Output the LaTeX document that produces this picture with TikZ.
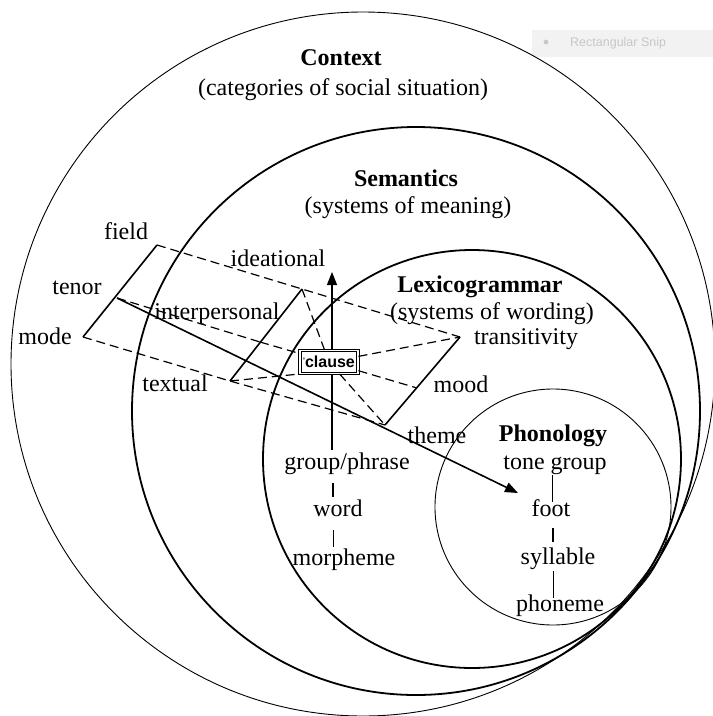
\documentclass[tikz,border=0pt]{standalone}
\usepackage{fontspec}
\setmainfont{Liberation Serif}
\setsansfont{Liberation Sans}
\usetikzlibrary{arrows.meta}
\begin{document}
\begin{tikzpicture}[x=1pt,y=-1pt,
  lbl/.style={font=\fontsize{24}{26}\selectfont, inner sep=0pt, text height=17pt, text depth=5pt},
  ttl/.style={lbl, font=\fontsize{24}{26}\selectfont\bfseries},
  thincirc/.style={draw, line width=0.9pt},
  thickcirc/.style={draw, line width=1.8pt},
  plane/.style={line width=1.6pt},
  link/.style={dash pattern=on 9pt off 5pt, line width=1.2pt},
  conn/.style={line width=0.9pt},
  bconn/.style={line width=1.8pt},
  tip/.style={-{Triangle[length=13pt,width=10pt]}},
  clausebox/.style={draw, double=white, double distance=1.1pt, line width=1pt, fill=white,
    minimum width=58pt, minimum height=23pt, inner sep=0pt,
    font=\fontsize{16}{18}\selectfont\sffamily\bfseries}
]
\useasboundingbox (0,0) rectangle (713,716);
% snip watermark
\node[fill=black!5, minimum width=181pt, minimum height=27pt, inner sep=0pt] (snip) at (622.5,43) {};
\node[text=black!22, inner sep=0pt, font=\fontsize{12}{12}\selectfont\sffamily] (snipdot) at (546,43) {$\bullet$};
\node[text=black!22, inner sep=0pt, anchor=west, font=\fontsize{12.5}{13}\selectfont\sffamily] (sniptext) at (570,43) {Rectangular Snip};
% circles
\coordinate (c0) at (363,364);
\coordinate (c1) at (416,411);
\coordinate (c2) at (472,459);
\coordinate (c3) at (553,507);
\draw[thincirc] (c0) circle[radius=352pt];
\draw[thickcirc] (c1) circle[radius=284pt];
\draw[thickcirc] (c2) circle[radius=209pt];
\draw[thincirc] (c3) circle[radius=118pt];

% titles
\node[ttl] (ctx) at (341,59) {Context};
\node[lbl] (ctxs) at (343,89) {(categories of social situation)};
\node[ttl] (sem) at (406,180) {Semantics};
\node[lbl] (sems) at (408,207) {(systems of meaning)};
\node[ttl] (lex) at (480,286) {Lexicogrammar};
\node[lbl] (lexs) at (492,313) {(systems of wording)};
\node[ttl] (pho) at (553,435) {Phonology};

% phonology ranks
\node[lbl] (tg) at (555,463) {tone group};
\node[lbl] (ft) at (551,510) {foot};
\node[lbl] (syl) at (558,558) {syllable};
\node[lbl] (phn) at (560,605) {phoneme};
% lexicogrammar ranks
\node[lbl] (gp) at (347,463) {group/phrase};
\node[lbl] (wd) at (338,510) {word};
\node[lbl] (mph) at (344,559) {morpheme};

% labels
\node[lbl] (field) at (126,233) {field};
\node[lbl] (tenor) at (77,288) {tenor};
\node[lbl] (mode) at (45,338) {mode};
\node[lbl] (idea) at (278,260) {ideational};
\node[lbl] (inter) at (217,313) {interpersonal};
\node[lbl] (text) at (175,385) {textual};
\node[lbl] (trans) at (526,338) {transitivity};
\node[lbl] (mood) at (461,386) {mood};
\node[lbl] (theme) at (437,437) {theme};

% corners
\coordinate (F) at (157,245);
\coordinate (M) at (83,337);
\coordinate (Tn) at (117,298);
\coordinate (I) at (302,289);
\coordinate (X) at (230,381);
\coordinate (P) at (260,342);
\coordinate (Tr) at (460,337);
\coordinate (Th) at (385,425);
\coordinate (Md) at (417,388);
\coordinate (A) at (518,493);
\coordinate (vbot) at (332,450);
\coordinate (vtop) at (332,272);

% rank connectors
\coordinate (gpw1) at (333,483); \coordinate (gpw2) at (333,497);
\coordinate (wm1) at (333,530); \coordinate (wm2) at (333,547);
\coordinate (tf1) at (552,475); \coordinate (tf2) at (552,502);
\coordinate (fs1) at (553,528); \coordinate (fs2) at (553,542);
\coordinate (sp1) at (553,571); \coordinate (sp2) at (553,598);
\draw[bconn] (gpw1) -- (gpw2);
\draw[conn] (wm1) -- (wm2);
\draw[conn] (tf1) -- (tf2);
\draw[bconn] (fs1) -- (fs2);
\draw[conn] (sp1) -- (sp2);

% vertical arrow
\draw[line width=1.1pt, tip] (vbot) -- (vtop);

% dashed links
\draw[link] (F) -- (I) -- (Tr);
\draw[link] (M) -- (X) -- (Th);
\draw[link] (Tn) -- (P);

% planes
\draw[plane] (F) -- (M);
\draw[plane] (I) -- (X);
\draw[plane] (Tr) -- (Th);

% main arrow
\draw[plane, tip] (Tn) -- (A);

% clause box
\node[clausebox] (clause) at (329,362) {\raisebox{4pt}{\fontsize{8}{8}\selectfont\textquotesingle}clause};
\draw[link] (P) -- (clause);
\draw[link] (clause) -- (Md);
\draw[link] (I) -- (clause);
\draw[link] (X) -- (clause.south west);
\draw[link] (clause) -- (Tr);
\draw[link] (clause) -- (Th);
\end{tikzpicture}
\end{document}
